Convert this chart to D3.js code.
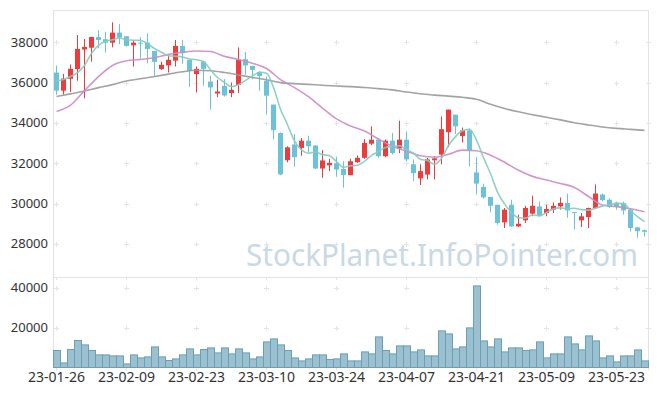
<!DOCTYPE html>
<html><head><meta charset="utf-8">
<script src="https://cdn.jsdelivr.net/npm/d3@7"></script>
<style>body{margin:0;background:#fff}svg{display:block}</style>
</head><body><svg id="c" width="657" height="396"></svg>
<script>
const dates = ["23-01-26","23-01-27","23-01-30","23-01-31","23-02-01","23-02-02","23-02-03","23-02-06","23-02-07","23-02-08",
"23-02-09","23-02-10","23-02-13","23-02-14","23-02-15","23-02-16","23-02-17","23-02-20","23-02-21","23-02-22",
"23-02-23","23-02-24","23-02-27","23-02-28","23-03-02","23-03-03","23-03-06","23-03-07","23-03-08","23-03-09",
"23-03-10","23-03-13","23-03-14","23-03-15","23-03-16","23-03-17","23-03-20","23-03-21","23-03-22","23-03-23",
"23-03-24","23-03-27","23-03-28","23-03-29","23-03-30","23-03-31","23-04-03","23-04-04","23-04-05","23-04-06",
"23-04-07","23-04-10","23-04-11","23-04-12","23-04-13","23-04-14","23-04-17","23-04-18","23-04-19","23-04-20",
"23-04-21","23-04-24","23-04-25","23-04-26","23-04-27","23-04-28","23-05-02","23-05-03","23-05-04","23-05-08",
"23-05-09","23-05-10","23-05-11","23-05-12","23-05-15","23-05-16","23-05-17","23-05-18","23-05-19","23-05-22",
"23-05-23","23-05-24","23-05-25","23-05-26","23-05-30"];

const open = [36500,35600,36190,36670,37640,37730,38260,38150,37980,38480,
38300,37850,37980,37980,37570,36670,36850,37090,37820,37130,
36420,37040,36050,35460,35840,35480,35880,37160,36830,36530,
36090,34910,33500,32150,32930,32760,33120,32880,31740,31900,
32000,31720,31410,32050,32270,32970,33170,32350,33120,32730,
33170,31950,31250,31440,32150,32430,33540,34410,33350,33630,
31550,30830,30330,29940,29070,29940,28870,29170,29500,29860,
29530,29700,29860,30030,29580,29170,29330,29780,30450,30190,
30030,30020,29700,28820,28680];
const high = [36850,36430,36900,38360,38160,38270,38600,38520,38990,38900,
38300,38110,38250,38440,37570,37040,37370,38110,38110,37130,
36800,37040,36330,36140,36170,36000,37750,37510,36830,36560,
36300,34910,33530,32840,33450,33250,33370,32900,32650,32220,
32330,32100,32220,32390,33200,33830,33200,33180,33500,34110,
33580,32190,31950,32270,32350,34320,34660,34410,33770,33720,
32310,30990,30330,29940,29780,30190,29450,29890,30390,30110,
29940,30060,30300,30490,29580,29530,29800,30950,30500,30260,
30100,30100,29750,28850,28720];
const low = [35400,35400,35530,36090,35220,37040,37700,37490,37750,37900,
37780,36800,37210,36960,36340,36630,36500,36800,36930,35780,
35510,35840,34660,35280,35310,35280,35480,36380,36170,35600,
34410,33180,31410,32050,31830,32370,32530,31720,31280,31610,
31330,30790,31410,32020,32220,32900,32270,32300,32430,32500,
32100,31110,30920,31200,31200,31950,32800,33450,33030,31850,
30460,30250,29560,28950,28790,28840,28840,29040,29370,29370,
29370,29530,29700,29300,28710,28840,28790,29730,30120,29780,
29700,29450,28620,28300,28360];
const close = [35600,36200,36680,37670,37770,38260,38110,37980,38480,38230,
37820,37980,37950,37670,37030,36880,37130,37820,37460,36580,
36680,36680,35760,35560,35360,35640,37130,36850,36630,36330,
35350,33640,31450,32790,32300,33120,32840,31740,32140,32020,
31690,31410,32100,32270,33010,33170,32350,33120,32510,33170,
32190,31510,31610,32190,32240,33690,34660,33830,33630,32630,
30990,30310,29890,29040,29700,28870,29000,29780,29890,29400,
29730,29890,30030,29660,29550,29370,29780,30500,30170,29830,
29830,29660,28790,28630,28600];
const volume = [8500,2300,9000,13500,11300,8500,6300,6300,5800,5800,
1800,6300,4800,5300,10300,5300,3500,4300,6300,9300,
6300,9000,9800,7300,9800,6800,9300,7300,4300,5300,
12800,14300,11300,8500,4800,3300,4300,6300,6300,4000,
4300,6800,3300,3300,7800,6800,15300,8500,6800,10800,
10800,7800,8800,5800,5800,18300,16800,9300,10300,19800,
40800,13300,10300,14300,7800,9800,9800,8500,8800,12800,
4800,6800,6800,15300,11800,8800,15800,13300,4800,5800,
2800,5800,5800,8800,3300];
const ma5 = [36090,36150,36300,36500,36850,37450,37850,38050,38120,38212,
38124,38098,38092,37930,37690,37502,37332,37306,37264,37174,
37134,37044,36632,36252,36008,35800,35890,36108,36322,36516,
36458,35760,34680,33912,33106,32660,32500,32558,32428,32372,
32086,31800,31872,31898,32096,32392,32580,32784,32832,32864,
32668,32500,32198,32134,31948,32248,32878,33322,33610,33688,
33148,32278,31490,30572,29986,29562,29300,29278,29448,29388,
29560,29738,29788,29742,29772,29700,29678,29772,29874,29930,
30022,29998,29656,29348,29102];
// read at every second trading day (null = not sampled)
const ma20 = [34570,null,34880,null,35600,null,36300,null,36850,null,
37080,null,37150,null,37230,null,37400,null,37500,null,
37570,null,37540,null,37300,null,37150,null,36960,null,
36700,null,36150,null,35750,null,35300,null,34740,null,
34200,null,33850,null,33600,null,33200,null,32840,null,
32600,null,32370,null,32300,null,32450,null,32650,null,
32620,null,32400,null,32050,null,31650,null,31350,null,
31170,null,31000,null,30800,null,30350,null,29930,null,
29850,null,29740,null,29590];
const ma60 = [35310,null,35440,null,35580,null,35750,null,35900,null,
36080,null,36190,null,36300,null,36420,null,36540,null,
36610,null,36590,null,36500,null,36380,null,36250,null,
36140,null,36000,null,35950,null,35910,null,35870,null,
35830,null,35800,null,35760,null,35700,null,35640,null,
35530,null,35450,null,35380,null,35330,null,35270,null,
35170,null,34930,null,34720,null,34550,null,34410,null,
34280,null,34150,null,34010,null,33900,null,33800,null,
33730,null,33680,null,33630];
const priceTicks = [28000,30000,32000,34000,36000,38000];
const volTicks = [20000,40000];
const dateTickEvery = 10;
const priceDomain = [26360, 39600];
const volDomain = [0, 45250];

const svg = d3.select("#c");
const L=53, R=648, PT=10, PB=277, VB=367.5;
const font = "'Noto Sans', 'Open Sans', sans-serif";
const idx = d3.range(dates.length);
const x = d3.scaleBand().domain(dates).range([L,R]).padding(0);
const cx = i => x(dates[i]) + x.bandwidth()/2;
const y = d3.scaleLinear().domain(priceDomain).range([PB,PT]);
const yv = d3.scaleLinear().domain(volDomain).range([VB,PB]);

// watermark
svg.append("text").attr("x",246).attr("y",266).attr("font-family",font)
  .attr("font-size",31).attr("fill","#c9d9e5").attr("textLength",392).attr("lengthAdjust","spacingAndGlyphs")
  .text("StockPlanet.InfoPointer.com");

// frame
const g = svg.append("g");
const frameC = "#e3e3e3";
g.append("line").attr("x1",L).attr("x2",R).attr("y1",PT+0.5).attr("y2",PT+0.5).attr("stroke",frameC);
g.append("line").attr("x1",L).attr("x2",R).attr("y1",PB+0.5).attr("y2",PB+0.5).attr("stroke",frameC);
g.append("line").attr("x1",L).attr("x2",R).attr("y1",VB).attr("y2",VB).attr("stroke",frameC);
g.append("line").attr("x1",L+0.5).attr("x2",L+0.5).attr("y1",PT).attr("y2",VB).attr("stroke",frameC);
g.append("line").attr("x1",R+0.5).attr("x2",R+0.5).attr("y1",PT).attr("y2",VB).attr("stroke",frameC);

// grid crosses
const tickIdx = idx.filter(i => i % dateTickEvery === 0);
const crossX = tickIdx.map(cx).concat([R+0.5]);
const crossY = priceTicks.map(y).concat(volTicks.map(yv));
const cg = svg.append("g").attr("stroke","#e4e4e4").attr("stroke-width",1);
crossX.forEach(px => {
  crossY.forEach(py => {
    const yy = Math.round(py)+0.5;
    cg.append("line").attr("x1",px-2.5).attr("x2",px+2.5).attr("y1",yy).attr("y2",yy);
    cg.append("line").attr("x1",px).attr("x2",px).attr("y1",yy-2.5).attr("y2",yy+2.5);
  });
  cg.append("line").attr("x1",px).attr("x2",px).attr("y1",PB).attr("y2",PB+3);
  cg.append("line").attr("x1",px).attr("x2",px).attr("y1",VB).attr("y2",VB+3);
});

// volume bars
svg.append("g").selectAll("rect").data(idx).join("rect")
  .attr("x", i => x(dates[i]) + 0.5)
  .attr("width", x.bandwidth())
  .attr("y", i => yv(volume[i]))
  .attr("height", i => VB - yv(volume[i]))
  .attr("fill","#9bc0d0").attr("stroke","#6b9fb6").attr("stroke-width",1);

// candles
const up = "#ee3b3d", down = "#6cc3d9";
const cgp = svg.append("g");
idx.forEach(i => {
  const col = close[i] >= open[i] ? up : down;
  cgp.append("line").attr("x1",cx(i)).attr("x2",cx(i))
    .attr("y1",y(high[i])).attr("y2",y(low[i])).attr("stroke",col).attr("stroke-width",1);
  const t = y(Math.max(open[i],close[i])), b = y(Math.min(open[i],close[i]));
  cgp.append("rect").attr("x",cx(i)-2.5).attr("width",5)
    .attr("y",t).attr("height",Math.max(1,b-t)).attr("fill",col);
});

// moving averages
function maLine(arr, color, w) {
  const pts = idx.filter(i => arr[i] != null);
  svg.append("path").datum(pts)
    .attr("d", d3.line().x(i => cx(i)).y(i => y(arr[i])).curve(d3.curveMonotoneX))
    .attr("fill","none").attr("stroke",color).attr("stroke-width",w).attr("stroke-opacity",0.9);
}
maLine(ma60, "#999999", 1.6);
maLine(ma20, "#cc8cc7", 1.6);
maLine(ma5, "#86cbbf", 1.6);

// axis labels
const lab = svg.append("g").attr("font-family",font).attr("fill","#333");
priceTicks.forEach(v => lab.append("text").attr("font-size",13).attr("x",48).attr("y",y(v)+4.5).attr("text-anchor","end").text(v));
volTicks.forEach(v => lab.append("text").attr("font-size",13).attr("x",48).attr("y",yv(v)+4.5).attr("text-anchor","end").text(v));
tickIdx.forEach(i => lab.append("text").attr("font-size",14).attr("x",cx(i)).attr("y",382).attr("text-anchor","middle").text(dates[i]));
</script></body></html>
